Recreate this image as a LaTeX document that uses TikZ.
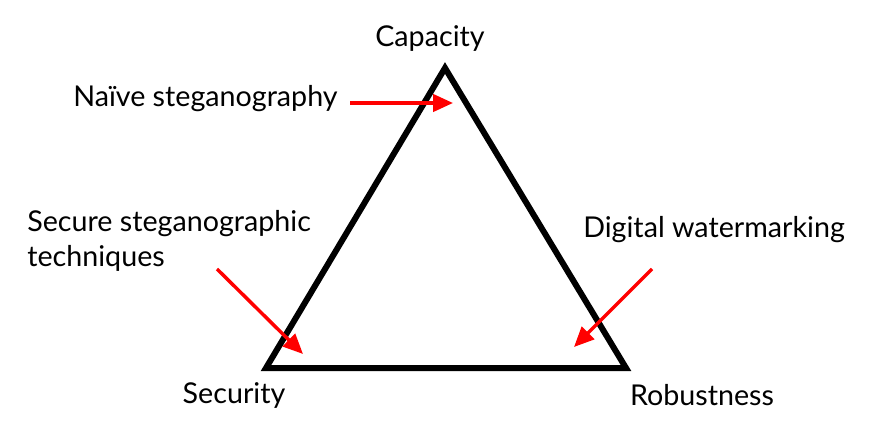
\documentclass[tikz,border=0pt]{standalone}
\usepackage{fontspec}
\setmainfont{Lato}
\usetikzlibrary{arrows.meta,positioning,calc}

\begin{document}
\begin{tikzpicture}[
			x=0.75pt, y=-0.75pt,
			>={Triangle[length=15pt,width=13pt]},
			lbl/.style={
				inner sep=0pt,
				font=\fontsize{21.5}{26.25}\selectfont
			},
			edge/.style={
				draw,
				line width=4.5pt,
				line join=miter
			},
			pointer/.style={
				->,
				red,
				line width=2.6pt
			}
			]
			
			\useasboundingbox (0,0) rectangle (886,431);
			
			% corners of the triangle
			\coordinate (top) at (445,68);
			\coordinate (left) at (266,368);
			\coordinate (right) at (626,368);
			
			\draw[edge] (top) -- (right) -- (left) -- cycle;
			
			\node[lbl,anchor=base] (cap) at (430,47) {Capacity};
			\node[lbl,anchor=base] (sec) at (234,403) {Security};
			\node[lbl,anchor=base] (rob) at (702,405) {Robustness};
			
			\node[lbl,anchor=base west] (naive) at (73,107) {Naïve steganography};
			\node[lbl,anchor=base west,align=left] (secure) at (27,267)
			{Secure steganographic\\techniques};
			\node[lbl,anchor=base west] (water) at (583,238) {Digital watermarking};
			
			% arrow ends
			\coordinate (naivefrom) at (350,103);
			\coordinate (naivetip) at (453,103);
			\coordinate (securefrom) at (217,269);
			\coordinate (securetip) at (303,354);
			\coordinate (waterfrom) at (652,269);
			\coordinate (watertip) at (574,347);
			
			\draw[pointer] (naivefrom) -- (naivetip);
			\draw[pointer] (securefrom) -- (securetip);
			\draw[pointer] (waterfrom) -- (watertip);
			
		\end{tikzpicture}
\end{document}
